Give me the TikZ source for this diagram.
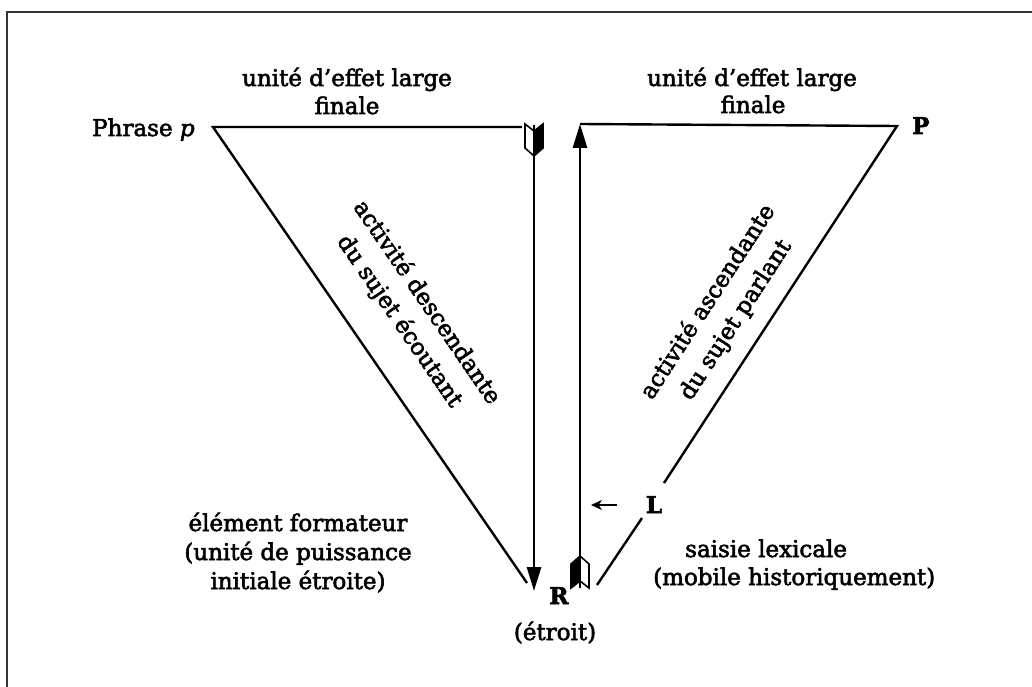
\documentclass[tikz,border=0pt]{standalone}
\usepackage{fontspec}
\setmainfont{DejaVu Serif}[FakeBold=2.5]
\usetikzlibrary{arrows.meta}
\begin{document}
\begin{tikzpicture}[x=1pt,y=-1pt,
  txt/.style={inner sep=0pt, font=\fontsize{23}{29}\selectfont},
  rtxt/.style={inner sep=0pt, font=\fontsize{23}{33}\selectfont, align=center},
  letter/.style={inner sep=0pt, font=\fontsize{23}{25}\selectfont\bfseries},
  edge/.style={line width=2.4pt, line join=miter},
  shaft/.style={line width=2.8pt},
  bigtip/.style={-{Triangle[length=24pt,width=14pt]}},
  fletch/.style={line width=1.6pt, line join=miter},
  frameline/.style={line width=2.6pt, draw=black!80}
]
\useasboundingbox (0,0) rectangle (1032,687);
% frame
\coordinate (fbl) at (7,700);
\coordinate (ftl) at (7,12);
\coordinate (ftr) at (1045,12);
\draw[frameline] (fbl) -- (ftl) -- (ftr);

% left triangle
\coordinate (lp) at (213,127);
\coordinate (ltr) at (522,127);
\coordinate (lbot) at (527,583);
\draw[edge] (ltr) -- (lp) -- (lbot);

% down arrow
\coordinate (dtop) at (534,125);
\coordinate (dbot) at (534,591);
\draw[shaft, bigtip] (dtop) -- (dbot);
\draw[fletch] (525,124) -- (534,131) -- (543,124) -- (543,148) -- (534,156) -- (525,148) -- cycle;
\fill (534,131) -- (543,124) -- (543,148) -- (534,156) -- cycle;

% up arrow
\coordinate (ubot) at (580,588);
\coordinate (utop) at (580,124);
\draw[shaft, bigtip] (ubot) -- (utop);
\draw[fletch] (571,564) -- (580,556) -- (589,564) -- (589,588) -- (580,581) -- (571,588) -- cycle;
\fill (580,556) -- (571,564) -- (571,588) -- (580,581) -- cycle;

% right triangle
\coordinate (rp) at (897,126);
\coordinate (rbreak1) at (664,483);
\coordinate (rbreak2) at (642,518);
\coordinate (rbot) at (597,585);
\draw[edge] (utop) -- (rp) -- (rbreak1);
\draw[edge] (rbreak2) -- (rbot);

% small arrow near L
\coordinate (la1) at (617,505);
\coordinate (la2) at (591,505);
\draw[line width=2pt, -{Stealth[length=11pt,width=10pt]}] (la1) -- (la2);

% labels
\node[txt, anchor=base west] (phrase) at (92,136) {Phrase \textit{p}};
\node[txt, anchor=base] (tl1) at (347,86) {unité d'effet large};
\node[txt, anchor=base] (tl2) at (347,114) {finale};
\node[txt, anchor=base] (tr1) at (752,86) {unité d'effet large};
\node[txt, anchor=base] (tr2) at (753,113) {finale};
\node[letter, anchor=base west] (Pn) at (912,134) {P};
\node[letter, anchor=base] (Rn) at (559,604) {R};
\node[txt, anchor=base] (etroit) at (555,640) {(étroit)};
\node[letter, anchor=base] (Ln) at (654,513) {L};

\node[rtxt, rotate=-55.5] (desc) at (413,312) {activité descendante\\du sujet écoutant};
\node[rtxt, rotate=57] (asc) at (722,311) {activité ascendante\\du sujet parlant};

\node[txt, anchor=base] (bl1) at (298,531) {élément formateur};
\node[txt, anchor=base] (bl2) at (298,560) {(unité de puissance};
\node[txt, anchor=base] (bl3) at (298,589) {initiale étroite)};

\node[txt, anchor=base west] (br1) at (685,557) {saisie lexicale};
\node[txt, anchor=base west] (br2) at (653,585) {(mobile historiquement)};
\end{tikzpicture}
\end{document}
